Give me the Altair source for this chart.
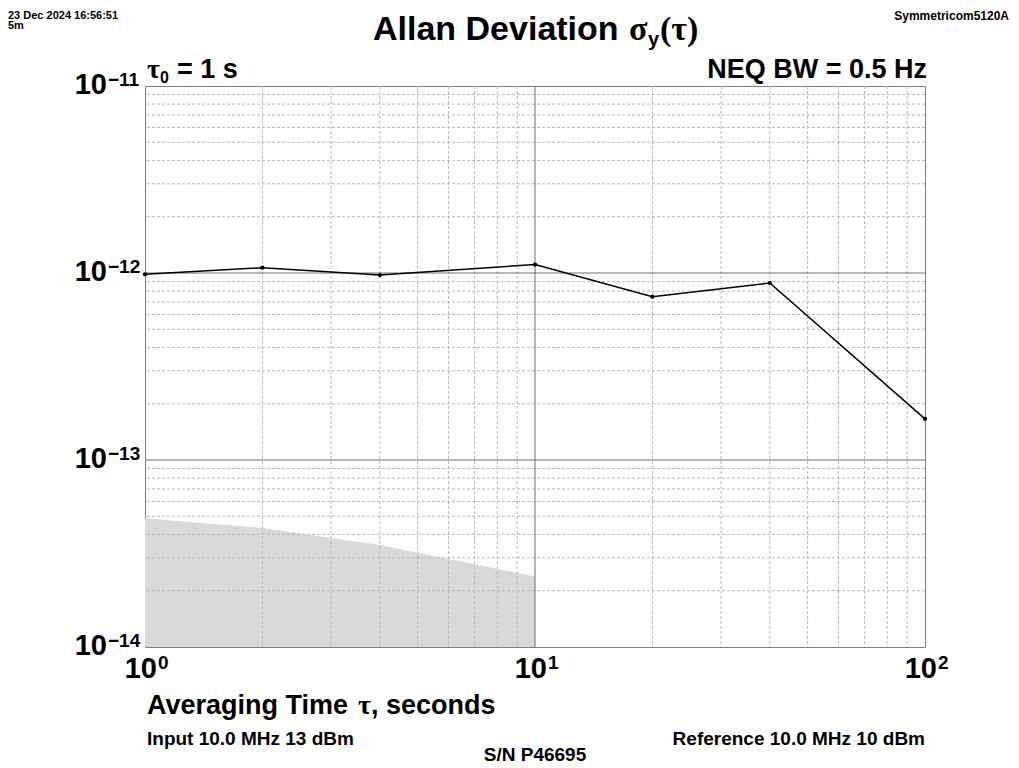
import altair as alt
import pandas as pd

# ---- data ----
tau = [1, 2, 4, 10, 20, 40, 100]
adev = [9.84e-13, 1.067e-12, 9.75e-13, 1.11e-12, 7.47e-13, 8.84e-13, 1.66e-13]

floor_tau = [1, 2, 4, 10]
floor_adev = [4.88e-14, 4.33e-14, 3.51e-14, 2.38e-14]

x_major = [1, 10, 100]
x_exp = ["0", "1", "2"]
y_major = [1e-11, 1e-12, 1e-13, 1e-14]
y_exp = ["\u221211", "\u221212", "\u221213", "\u221214"]
base_txt = "10"

x_minor = [2, 3, 4, 5, 6, 7, 8, 9, 20, 30, 40, 50, 60, 70, 80, 90]
x_grid_major = [10]
y_minor = [2e-14, 3e-14, 4e-14, 5e-14, 6e-14, 7e-14, 8e-14, 9e-14,
           2e-13, 3e-13, 4e-13, 5e-13, 6e-13, 7e-13, 8e-13, 9e-13,
           2e-12, 3e-12, 4e-12, 5e-12, 6e-12, 7e-12, 8e-12, 9e-12]
y_grid_major = [1e-12, 1e-13]

F = "Liberation Sans"
G = "Liberation Serif"
W, H = 780, 561

xs = alt.Scale(type="log", domain=[1, 100], nice=False)
ys = alt.Scale(type="log", domain=[1e-14, 1e-11], nice=False)

df = pd.DataFrame({"tau": tau, "adev": adev})
dff = pd.DataFrame({"tau": floor_tau, "adev": floor_adev})

xaxis = alt.Axis(values=x_major, labels=False, domain=False, grid=False,
                 tickColor="#808080", tickSize=6, title=None)
yaxis = alt.Axis(values=y_major, labels=False, domain=False, grid=False,
                 tickColor="#808080", tickSize=6, title=None)

area = alt.Chart(dff).mark_area(color="#d9d9d9", opacity=1).encode(
    x=alt.X("tau:Q", scale=xs, axis=xaxis),
    y=alt.Y("adev:Q", scale=ys, axis=yaxis),
    y2=alt.datum(1e-14),
)

minor_dash = [3, 2]
vminor = alt.Chart(pd.DataFrame({"v": x_minor})).mark_rule(
    color="#b8b8b8", strokeDash=minor_dash, strokeWidth=1).encode(
    x=alt.X("v:Q", scale=xs, axis=None))
hminor = alt.Chart(pd.DataFrame({"v": y_minor})).mark_rule(
    color="#b8b8b8", strokeDash=minor_dash, strokeWidth=1).encode(
    y=alt.Y("v:Q", scale=ys, axis=None))
vmajor = alt.Chart(pd.DataFrame({"v": x_grid_major})).mark_rule(
    color="#6e6e6e", strokeWidth=1).encode(x=alt.X("v:Q", scale=xs, axis=None))
hmajor = alt.Chart(pd.DataFrame({"v": y_grid_major})).mark_rule(
    color="#6e6e6e", strokeWidth=1).encode(y=alt.Y("v:Q", scale=ys, axis=None))

line = alt.Chart(df).mark_line(
    color="black", strokeWidth=1.5,
    point=alt.OverlayMarkDef(color="black", filled=True, size=18)).encode(
    x=alt.X("tau:Q", scale=xs, axis=None),
    y=alt.Y("adev:Q", scale=ys, axis=None))

# tick labels 10^n
dxl = pd.DataFrame({"v": x_major, "b": [base_txt] * 3, "e": x_exp})
dyl = pd.DataFrame({"v": y_major, "b": [base_txt] * 4, "e": y_exp})

xl_base = alt.Chart(dxl).mark_text(font=F, fontWeight="bold", fontSize=29,
                                   align="right", baseline="alphabetic", dx=12).encode(
    x=alt.X("v:Q", scale=xs, axis=None), y=alt.value(H + 31), text="b:N")
xl_exp = alt.Chart(dxl).mark_text(font=F, fontWeight="bold", fontSize=19,
                                  align="left", baseline="alphabetic", dx=13).encode(
    x=alt.X("v:Q", scale=xs, axis=None), y=alt.value(H + 22), text="e:N")
yl_base = alt.Chart(dyl).mark_text(font=F, fontWeight="bold", fontSize=29,
                                   align="right", baseline="alphabetic", dy=8).encode(
    y=alt.Y("v:Q", scale=ys, axis=None), x=alt.value(-38), text="b:N")
yl_exp = alt.Chart(dyl).mark_text(font=F, fontWeight="bold", fontSize=19,
                                  align="left", baseline="alphabetic", dy=0).encode(
    y=alt.Y("v:Q", scale=ys, axis=None), x=alt.value(-37), text="e:N")


def txt(s, x, y, size, align="left", font=F, weight="bold"):
    return alt.Chart(pd.DataFrame({"t": [s]})).mark_text(
        font=font, fontWeight=weight, fontSize=size, align=align,
        baseline="alphabetic", color="black").encode(
        x=alt.value(x), y=alt.value(y), text="t:N")


notes = [
    txt("23 Dec 2024 16:56:51", -137, -67, 11),
    txt("5m", -137, -57, 11),
    txt("Symmetricom5120A", 864, -66, 12, align="right"),
    txt("Allan Deviation", 228, -46, 34),
    txt("\u03c3", 484, -46, 34, font=G),
    txt("y", 503, -40, 20),
    txt("(\u03c4)", 515, -46, 34, font=G),
    txt("\u03c4", 2, -8, 28, font=G),
    txt("0", 15, -3, 16),
    txt("= 1 s", 32, -8, 27),
    txt("NEQ BW = 0.5 Hz", 782, -8, 27, align="right"),
    txt("Averaging Time", 2, 628, 27),
    txt("\u03c4", 213, 628, 28, font=G),
    txt(", seconds", 226, 628, 27),
    txt("Input 10.0 MHz 13 dBm", 2, 659, 19),
    txt("Reference 10.0 MHz 10 dBm", 780, 659, 19, align="right"),
    txt("S/N P46695", 390, 675, 19, align="center"),
]

chart = alt.layer(
    area, vminor, hminor, vmajor, hmajor, line,
    xl_base, xl_exp, yl_base, yl_exp, *notes
).properties(
    width=W, height=H,
    autosize=alt.AutoSizeParams(type="none"),
    padding={"left": 137, "top": 78, "right": 86, "bottom": 117},
    background="white",
).configure_view(stroke="#808080", strokeWidth=1)

chart.save("out.html", embed_options={"renderer": "svg", "actions": False})
